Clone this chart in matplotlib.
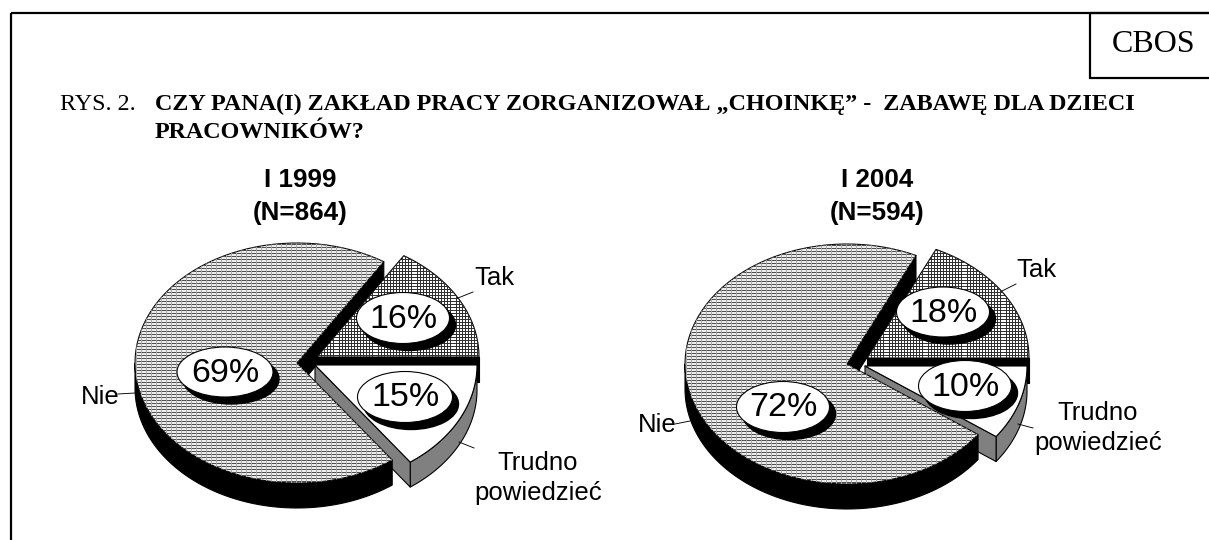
import numpy as np
import matplotlib
matplotlib.use('Agg')
import matplotlib.pyplot as plt
from matplotlib.patches import Polygon, Ellipse, Rectangle

# dane
titles = ['I 1999', 'I 2004']
counts = ['(N=864)', '(N=594)']
tak = [16, 18]
trudno = [15, 10]
nie = [69, 72]
heading_1 = 'CZY PANA(I) ZAKŁAD PRACY ZORGANIZOWAŁ „CHOINKĘ” -  ZABAWĘ DLA DZIECI'
heading_2 = 'PRACOWNIKÓW?'

# wymiary w pikselach
W, H = 1209, 540
A, B, DEPTH = 162, 120, 25
CENTERS = [(297, 363), (847, 364)]
TAK_SHIFT = (20, -6)
TRUDNO_SHIFT = (18, 2)
PX = 0.72  # 1 piksel w punktach

fig = plt.figure(figsize=(W / 100, H / 100), dpi=100)
ax = fig.add_axes([0, 0, 1, 1])
ax.set_xlim(0, W)
ax.set_ylim(H, 0)
ax.axis('off')


def arc(cx, cy, a1, a2, n=80):
    t = np.radians(np.linspace(a1, a2, n))
    return np.column_stack([cx + A * np.cos(t), cy - B * np.sin(t)])


def slice_top(cx, cy, a1, a2):
    return np.vstack([[cx, cy], arc(cx, cy, a1, a2)])


def cut_side(cx, cy, angle):
    p = arc(cx, cy, angle, angle, 1)[0]
    return [(cx, cy), p, (p[0], p[1] + DEPTH), (cx, cy + DEPTH)]


def arc_side(cx, cy, a1, a2):
    p = arc(cx, cy, a1, a2)
    low = p[::-1] + [0, DEPTH]
    return np.vstack([p, low])


def poly(points, face, zorder):
    patch = Polygon(points, closed=True, facecolor=face, edgecolor='k',
                    linewidth=1.1 * PX, zorder=zorder, joinstyle='round')
    ax.add_patch(patch)
    return patch


def fill_lines(patch, dy, dx, zorder, hcolor, vcolor, hlw, vlw, skip=0):
    x0, y0 = patch.get_path().vertices.min(axis=0)
    x1, y1 = patch.get_path().vertices.max(axis=0)
    ys = np.arange(np.floor(y0), y1, dy) + 0.5
    xs = np.arange(np.floor(x0), x1, dx) + 0.5
    if skip:
        xs = xs[np.arange(len(xs)) % skip != skip // 2]
    h = ax.hlines(ys, x0, x1, colors=hcolor, linewidth=hlw * PX, zorder=zorder)
    v = ax.vlines(xs, y0, y1, colors=vcolor, linewidth=vlw * PX, zorder=zorder)
    h.set_clip_path(patch)
    v.set_clip_path(patch)


def pct_label(x, y, w, h, text, zorder=20):
    ax.add_patch(Ellipse((x + 6, y + 7), w, h, facecolor='k', edgecolor='k', zorder=zorder))
    ax.add_patch(Ellipse((x, y), w, h, facecolor='w', edgecolor='k',
                         linewidth=1.1 * PX, zorder=zorder + 1))
    ax.text(x, y + 1, text, ha='center', va='center', fontsize=24.5,
            family='Liberation Sans', zorder=zorder + 2)


def leader(x1, y1, x2, y2):
    ax.plot([x1, x2], [y1, y2], color='k', linewidth=0.9 * PX, zorder=15)


def draw_pie(i):
    cx, cy = CENTERS[i]
    a_tak = 3.6 * tak[i]
    a_tru = 3.6 * trudno[i]
    tx, ty = cx + TAK_SHIFT[0], cy + TAK_SHIFT[1]
    ux, uy = cx + TRUDNO_SHIFT[0], cy + TRUDNO_SHIFT[1]

    # tyl: czarne sciany przeciec
    poly(cut_side(cx, cy, a_tak), 'k', 1)
    poly(cut_side(tx, ty, 0), 'k', 2)
    # Tak
    p = poly(slice_top(tx, ty, 0, a_tak), 'w', 3)
    fill_lines(p, 3, 3, 3.5, '#303030', '#303030', 1.0, 1.0, skip=13)
    # Trudno powiedziec
    poly(arc_side(ux, uy, -a_tru, 0), '#808080', 4)
    poly(cut_side(ux, uy, -a_tru), '#808080', 4)
    poly(slice_top(ux, uy, -a_tru, 0), 'w', 5)
    # Nie
    a_nie = 3.6 * nie[i]
    poly(arc_side(cx, cy, 180, a_tak + a_nie), 'k', 6)
    p = poly(slice_top(cx, cy, a_tak, a_tak + a_nie), 'w', 7)
    fill_lines(p, 3, 5, 7.5, '#505050', '#a8a8a8', 1.2, 1.0)


draw_pie(0)
draw_pie(1)

# etykiety procentowe
pct_label(225, 372, 96, 50, f'{nie[0]}%')
pct_label(403, 318, 93, 51, f'{tak[0]}%')
pct_label(405, 397, 95, 51, f'{trudno[0]}%')
pct_label(783, 407, 93, 51, f'{nie[1]}%')
pct_label(943, 312, 93, 50, f'{tak[1]}%')
pct_label(965, 386, 93, 51, f'{trudno[1]}%')

# podpisy
sans = dict(family='Liberation Sans', fontsize=18.5, ha='center', va='center')
ax.text(494, 278, 'Tak', **sans)
ax.text(100, 397, 'Nie', **sans)
ax.text(538, 463, 'Trudno', **sans)
ax.text(538, 493, 'powiedzieć', **sans)
ax.text(1036, 270, 'Tak', **sans)
ax.text(657, 425, 'Nie', **sans)
ax.text(1098, 413, 'Trudno', **sans)
ax.text(1098, 443, 'powiedzieć', **sans)
leader(458, 298, 473, 292)
leader(118, 394, 135, 393)
leader(459, 442, 474, 448)
leader(1002, 291, 1016, 284)
leader(675, 424, 690, 421)
leader(1018, 424, 1033, 428)

# tytuly wykresow
for x, t, n in zip([300, 877], titles, counts):
    ax.text(x, 180, t, family='Liberation Sans', fontweight='bold', fontsize=18.7,
            ha='center', va='center')
    ax.text(x, 213, n, family='Liberation Sans', fontweight='bold', fontsize=18.7,
            ha='center', va='center')

# ramka
ax.add_patch(Rectangle((11, 13), W + 20, H + 20, fill=False, edgecolor='k', linewidth=2.2 * PX))
ax.add_patch(Rectangle((1090, 13), W, 65, fill=False, edgecolor='k', linewidth=2.2 * PX))
ax.text(1154, 45, 'CBOS', family='Liberation Serif', fontsize=23, ha='center', va='center')

# naglowek
ax.text(60, 104, 'RYS. 2.', family='Liberation Serif', fontsize=17.4, ha='left', va='center')
ax.text(155, 104, heading_1, family='Liberation Serif', fontweight='bold', fontsize=17.4,
        ha='left', va='center')
ax.text(155, 132, heading_2, family='Liberation Serif', fontweight='bold', fontsize=17.4,
        ha='left', va='center')

fig.savefig('out.png', dpi=100)
